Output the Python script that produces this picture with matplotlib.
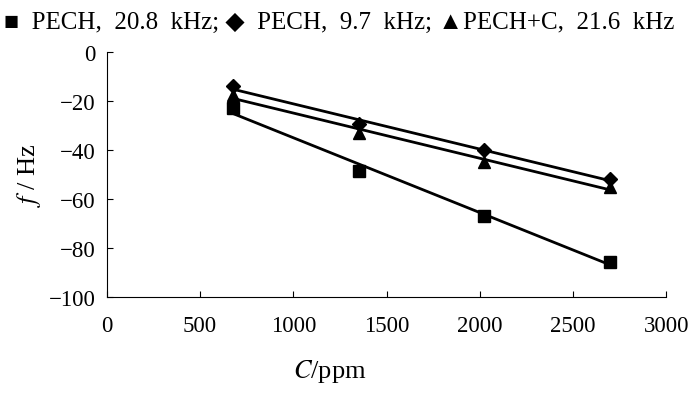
import numpy as np
import matplotlib
matplotlib.use("Agg")
import matplotlib.pyplot as plt

# concentration (ppm) and frequency shift (Hz)
conc = [675, 1350, 2025, 2700]
pech_208 = [-23, -48.5, -67, -85.5]
pech_97 = [-14, -29.5, -40, -52]
pech_c_216 = [-17.5, -33, -45, -55]

series = [
    (pech_208, "s"),
    (pech_97, "D"),
    (pech_c_216, "^"),
]

plt.rcParams["font.family"] = ["Liberation Serif", "DejaVu Serif"]
plt.rcParams["mathtext.fontset"] = "stix"

fig = plt.figure(figsize=(6.94, 4.10), dpi=100)
ax = fig.add_axes([0.154, 0.273, 0.806, 0.598])

x = np.array(conc, dtype=float)
xf = np.array([x.min(), x.max()])
for vals, mk in series:
    ax.plot(x, vals, linestyle="none", marker=mk, color="black",
            markersize=8.5 if mk != "D" else 7, zorder=3)
    k, b = np.polyfit(x, vals, 1)
    ax.plot(xf, k * xf + b, color="black", lw=2.0, zorder=2)

ax.set_xlim(0, 3000)
ax.set_ylim(-100, 0)
ax.set_xticks(range(0, 3001, 500))
ax.set_yticks(range(-100, 1, 20))
ax.spines["top"].set_visible(False)
ax.spines["right"].set_visible(False)
ax.tick_params(direction="in", length=4, width=0.8, labelsize=16.5, pad=8)
ax.tick_params(axis="x", pad=13)
ax.yaxis.set_major_formatter(matplotlib.ticker.FuncFormatter(
    lambda v, p: f"{int(v)}".replace("-", "\u2212")))

ax.set_ylabel(r"$f$ / Hz", fontsize=19, labelpad=4)
fig.text(0.475, 0.078, r"$C$/ppm", fontsize=19, ha="center")

fig.text(0.006, 0.945,
         "\u25a0  PECH,  20.8  kHz; \u25c6  PECH,  9.7  kHz; \u25b2PECH+C,  21.6  kHz",
         fontsize=18, family=["Liberation Serif", "DejaVu Sans"], va="center")

fig.savefig("out.png", dpi=100, facecolor="white")
